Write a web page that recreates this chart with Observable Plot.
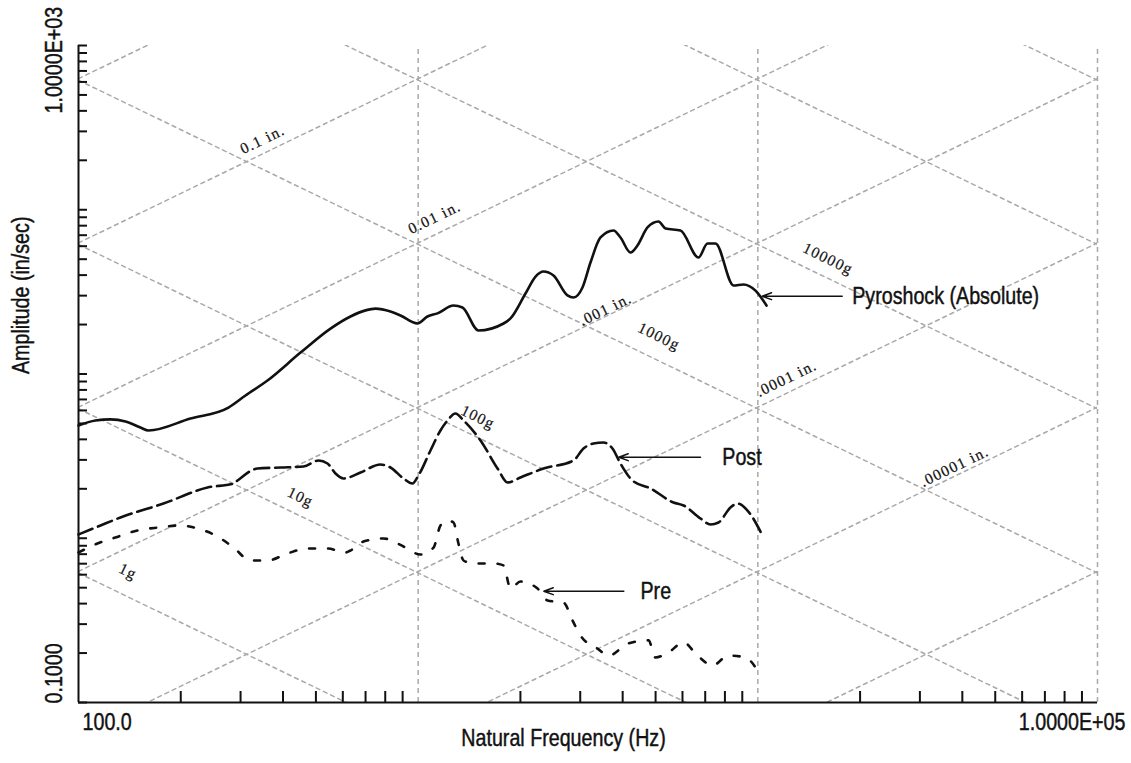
<!DOCTYPE html>
<html>
<head>
<meta charset="utf-8">
<script src="https://cdn.jsdelivr.net/npm/d3@7"></script>
<script src="https://cdn.jsdelivr.net/npm/@observablehq/plot@0.6"></script>
<style>
  html, body { margin: 0; padding: 0; background: #fff; }
  svg { display: block; }
  g[font-family^="Liberation Serif"] text { letter-spacing: 1.2px; stroke: #111; stroke-width: 0.2px; }
</style>
</head>
<body>
<div id="chart"></div>
<script>
// ---- Pyroshock (Absolute) SRS, solid ----
const pyroFreq = [100,112.2,124.2,137.5,152.2,160.8,213.6,276.4,310.2,360.1,450.4,552,632,700,749,829,887,995,1065,1140,1271,1350,1505,1784,1870,2070,2216,2339,2503,2752,2866,3046,3216,3442,3758,3941,4217,4422,4733,5100,5349,5920,6689,7109,7505,8480,9074,9842,10605];
const pyroVel  = [4.86,5.21,5.29,5.14,4.72,4.53,5.36,6.25,7.40,9.13,13.5,18.9,22.4,24.4,25.0,24.0,22.7,20.3,22.4,23.4,26.1,25.4,18.4,20.3,21.8,30.9,39.2,42.1,39.8,30.1,29.2,33.6,47.7,67.8,74.8,67.8,54.9,60.6,78.0,84.8,76.9,74.8,51.2,62.3,62.3,34.6,35.1,32.2,26.1];

// ---- Post, long dashes ----
const postFreq = [100,116.1,132.9,177.9,239.8,286,293.8,336.5,393.4,459.7,508.8,540.9,571,602.8,676.5,774.6,829,905.4,962.2,1002,1087,1163,1220,1288,1360,1526,1713,1833,2001,2339,2866,3067,3282,3513,3733,3941,4275,4831,5645,6042,6780,7255,7659,8309,8712,9323,10321];
const postVel  = [1.054,1.196,1.338,1.627,2.037,2.154,2.247,2.658,2.696,2.734,2.975,2.851,2.479,2.311,2.514,2.812,2.696,2.311,2.154,2.411,3.421,4.529,5.212,5.749,5.212,3.937,2.658,2.185,2.344,2.658,2.975,3.518,3.775,3.828,3.518,2.851,2.247,2.009,1.651,1.583,1.319,1.213,1.247,1.539,1.627,1.475,1.039];

// ---- Pre, short dashes ----
const preFreq = [100,113.7,128.5,149.1,172.0,199.7,224.1,256.6,286.0,320.9,360.1,412.4,472.3,540.9,611.0,632,690.4,790.5,905.4,1016,1110,1163,1220,1271,1314,1360,1455,1667,1784,1870,2001,2246,2403,2679,2847,3005,3373,3633,4161,4765,4996,5458,6042,6644,7354,8197,9198,9977];
const preVel  = [0.819,0.929,1.011,1.115,1.163,1.196,1.147,1.025,0.878,0.732,0.732,0.808,0.866,0.866,0.819,0.842,0.955,0.997,0.891,0.796,0.878,1.196,1.283,1.247,0.929,0.732,0.702,0.702,0.683,0.494,0.545,0.494,0.418,0.406,0.316,0.256,0.213,0.193,0.229,0.239,0.188,0.202,0.232,0.193,0.168,0.193,0.188,0.157];

// ---- Tripartite grid levels ----
const dispLevels  = [1, 0.1, 0.01, 0.001, 0.0001, 0.00001, 0.000001];      // inches
const accelLevels = [1, 10, 100, 1000, 10000, 100000, 1000000];            // g
const gInches = 386.09;
const gridFreqEnds = [100, 100000];

const dispLabelText = ["0.1 in.", "0.01 in.", ".001 in.", ".0001 in.", ".00001 in."];
const dispLabelFreq = [348, 1117, 3560, 12143, 37930];
const dispLabelVel  = [267.7, 89.7, 24.7, 9.39, 2.734];

const accelLabelText = ["1g", "10g", "100g", "1000g", "10000g"];
const accelLabelFreq = [139.9, 450.4, 1500, 5117, 16090];
const accelLabelVel  = [0.627, 1.778, 5.457, 16.92, 50.27];

// ---- Callouts ----
const calloutText     = ["Pyroshock (Absolute)", "Post", "Pre"];
const calloutTextFreq = [18960, 7857, 4513];
const calloutFromFreq = [17714, 6780, 4031];
const calloutToFreq   = [10299, 3896, 2344];
const calloutVel      = [29.77, 3.113, 0.476];

// ---- Axes ----
const xGridLines = [1000, 10000, 100000];
const xTicks = [200,300,400,500,600,700,800,900,2000,3000,4000,5000,6000,7000,8000,9000,20000,30000,40000,50000,60000,70000,80000,90000];
const yTicks = [0.1,0.2,0.3,0.4,0.5,0.6,0.7,0.8,0.9,1,2,3,4,5,6,7,8,9,10,20,30,40,50,60,70,80,90,100,200,300,400,500,600,700,800,900,1000];
const xTickLabels = ["100.0", "1.0000E+05"];
const yTickLabels = ["0.1000", "1.0000E+03"];
const xTitle = "Natural Frequency (Hz)";
const yTitle = "Amplitude (in/sec)";

// ---- Build tables ----
const toRows = (fs, vs) => fs.map((f, i) => ({f, v: vs[i]}));
const pyro = toRows(pyroFreq, pyroVel);
const post = toRows(postFreq, postVel);
const pre = toRows(preFreq, preVel);

const dispLines = dispLevels.flatMap(d => gridFreqEnds.map(f => ({level: "d" + d, f, v: 2 * Math.PI * f * d})));
const accelLines = accelLevels.flatMap(a => gridFreqEnds.map(f => ({level: "a" + a, f, v: a * gInches / (2 * Math.PI * f)})));

const dispLabels = dispLabelText.map((t, i) => ({t, f: dispLabelFreq[i], v: dispLabelVel[i]}));
const accelLabels = accelLabelText.map((t, i) => ({t, f: accelLabelFreq[i], v: accelLabelVel[i]}));
const callouts = calloutText.map((t, i) => ({t, ft: calloutTextFreq[i], f1: calloutFromFreq[i], f2: calloutToFreq[i], v: calloutVel[i]}));

const angle = Math.atan((657 / 4) / (1019 / 3)) * 180 / Math.PI;
const grey = "#a9a9a9";
const serif = "Liberation Serif, Times New Roman, serif";

const chart = Plot.plot({
  width: 1131,
  height: 763,
  marginLeft: 78,
  marginRight: 34,
  marginTop: 45,
  marginBottom: 61,
  style: {fontFamily: "Liberation Sans, Arial, sans-serif", fontSize: "24px", background: "#fff", color: "#111", overflow: "visible"},
  x: {type: "log", domain: [100, 100000], axis: null},
  y: {type: "log", domain: [0.1, 1000], axis: null},
  marks: [
    // tripartite diagonal grid
    Plot.line(dispLines, {x: "f", y: "v", z: "level", stroke: grey, strokeWidth: 1.5, strokeDasharray: "4,4", clip: true}),
    Plot.line(accelLines, {x: "f", y: "v", z: "level", stroke: grey, strokeWidth: 1.5, strokeDasharray: "4,4", clip: true}),
    Plot.ruleX(xGridLines, {y1: 0.1, y2: 1000, stroke: grey, strokeWidth: 1.5, strokeDasharray: "5,4"}),
    Plot.text(dispLabels, {x: "f", y: "v", text: "t", rotate: -angle, fontFamily: serif, fontSize: 15.5, fill: "#111"}),
    Plot.text(accelLabels, {x: "f", y: "v", text: "t", rotate: angle, fontFamily: serif, fontSize: 15.5, fill: "#111"}),
    // axes
    Plot.ruleX([100], {y1: 0.1, y2: 1000, stroke: "#111", strokeWidth: 2}),
    Plot.ruleY([0.1], {x1: 100, x2: 100000, stroke: "#111", strokeWidth: 2}),
    Plot.axisY(yTicks, {anchor: "left", tickSize: 9, dx: 9, fill: "none", label: null, stroke: "#111", strokeWidth: 2}),
    Plot.axisX(xTicks, {anchor: "bottom", tickSize: 11, dy: -11, fill: "none", label: null, stroke: "#111", strokeWidth: 2}),
    Plot.text([{f: 100, v: 0.1, t: xTickLabels[0]}], {x: "f", y: "v", text: "t", textAnchor: "start", dx: 4, dy: 20}),
    Plot.text([{f: 100000, v: 0.1, t: xTickLabels[1]}], {x: "f", y: "v", text: "t", textAnchor: "end", dx: 28, dy: 20}),
    Plot.text([{f: 100, v: 0.1, t: yTickLabels[0]}], {x: "f", y: "v", text: "t", rotate: -90, textAnchor: "start", dx: -23.7, dy: 1}),
    Plot.text([{f: 100, v: 1000, t: yTickLabels[1]}], {x: "f", y: "v", text: "t", rotate: -90, textAnchor: "start", dx: -23.7, dy: 68}),
    Plot.text([yTitle], {text: d => d, frameAnchor: "left", rotate: -90, dx: -56.8}),
    Plot.text([xTitle], {text: d => d, frameAnchor: "bottom", dx: -24.5, dy: 43.3}),
    // curves
    Plot.line(pre, {x: "f", y: "v", stroke: "#111", strokeWidth: 2.6, strokeDasharray: "6,13", curve: "monotone-x"}),
    Plot.line(post, {x: "f", y: "v", stroke: "#111", strokeWidth: 2.6, strokeDasharray: "15,6", curve: "monotone-x"}),
    Plot.line(pyro, {x: "f", y: "v", stroke: "#111", strokeWidth: 2.6, curve: "monotone-x"}),
    // callouts
    Plot.arrow(callouts, {x1: "f1", y1: "v", x2: "f2", y2: "v", stroke: "#111", strokeWidth: 1.5, headLength: 10, headAngle: 40}),
    Plot.text(callouts, {x: "ft", y: "v", text: "t", textAnchor: "start"})
  ]
});

// Narrow sans lettering (Arial Narrow look): squeeze sans text horizontally around its anchor.
const isNum = s => s != null && /^-?[\d.]+(e-?\d+)?$/i.test(s);
chart.querySelectorAll("text").forEach(t => {
  if (t.closest('g[font-family^="Liberation Serif"]')) return;
  let tr = t.getAttribute("transform") || "";
  const xs = t.getAttribute("x"), ys = t.getAttribute("y");
  let tx = 0, ty = 0;
  if (isNum(xs)) { tx = +xs; t.removeAttribute("x"); }
  if (isNum(ys)) { ty = +ys; t.removeAttribute("y"); }
  tr += ` translate(${tx},${ty}) scale(0.82,1)`;
  t.setAttribute("transform", tr.trim());
  t.style.stroke = "#111";
  t.style.strokeWidth = "0.45px";
});

document.getElementById("chart").appendChild(chart);
</script>
</body>
</html>
